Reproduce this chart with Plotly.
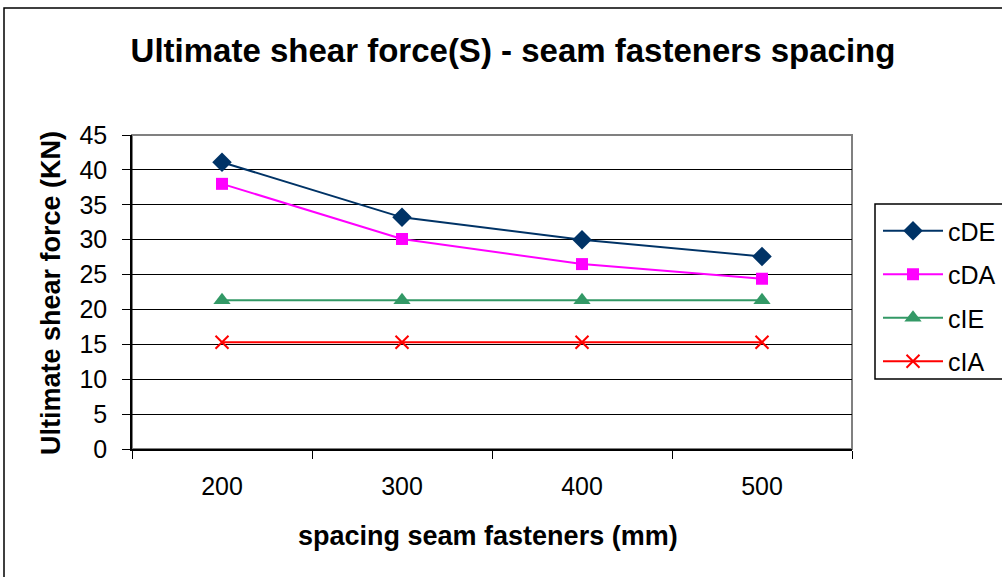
import plotly.graph_objects as go

spacing = ["200", "300", "400", "500"]
cDE = [41.1, 33.2, 30.0, 27.6]
cDA = [38.0, 30.1, 26.5, 24.4]
cIE = [21.3, 21.3, 21.3, 21.3]
cIA = [15.3, 15.3, 15.3, 15.3]
y_ticks = [0, 5, 10, 15, 20, 25, 30, 35, 40, 45]

FONT = "Liberation Sans, Arial, sans-serif"

fig = go.Figure()
fig.add_trace(go.Scatter(x=spacing, y=cDE, name="cDE", mode="lines+markers", legendgroup="a",
                         line=dict(color="#003366", width=2),
                         marker=dict(symbol="diamond", size=15, color="#003366")))
fig.add_trace(go.Scatter(x=spacing, y=cDA, name="cDA", mode="lines+markers", legendgroup="b",
                         line=dict(color="#FF00FF", width=2),
                         marker=dict(symbol="square", size=12, color="#FF00FF")))
fig.add_trace(go.Scatter(x=spacing, y=cIE, name="cIE", mode="lines+markers", legendgroup="c",
                         line=dict(color="#339966", width=2),
                         marker=dict(symbol="triangle-up", size=15, color="#339966")))
fig.add_trace(go.Scatter(x=spacing, y=cIA, name="cIA", mode="lines+markers", legendgroup="d",
                         line=dict(color="#FF0000", width=2),
                         marker=dict(symbol="x-thin", size=13, color="#FF0000",
                                     line=dict(color="#FF0000", width=2))))

L, R, T, B = 132, 852, 135, 449
W, H = 1002, 577
pw, ph = R - L, B - T

def px(x):
    return (x - L) / pw

def py(y):
    return (B - y) / ph

fig.update_layout(
    width=W, height=H,
    margin=dict(l=L, r=W - R, t=T, b=H - B, autoexpand=False),
    paper_bgcolor="white", plot_bgcolor="white",
    font=dict(family=FONT, size=25, color="black"),
    title=dict(text="<b>Ultimate shear force(S) - seam fasteners spacing</b>",
               x=513 / W, xanchor="center", y=1 - 50 / H, yanchor="middle",
               font=dict(family=FONT, size=33, color="black")),
    showlegend=True,
    legend=dict(x=px(878), y=py(208), xanchor="left", yanchor="top",
                bgcolor="rgba(0,0,0,0)", borderwidth=0,
                font=dict(family=FONT, size=25, color="black"),
                itemwidth=60, tracegroupgap=8),
    shapes=[
        dict(type="rect", xref="paper", yref="paper",
             x0=px(4), x1=px(1010), y0=py(590), y1=py(8),
             line=dict(color="black", width=1.5), layer="below"),
        dict(type="rect", xref="paper", yref="paper",
             x0=0, x1=1, y0=0, y1=1,
             line=dict(color="#808080", width=2), layer="below"),
        dict(type="rect", xref="paper", yref="paper",
             x0=px(875), x1=px(1010), y0=py(379), y1=py(204),
             line=dict(color="black", width=1.5), layer="below"),
    ],
    annotations=[
        dict(text="<b>spacing seam fasteners (mm)</b>", xref="paper", yref="paper",
             x=px(488), y=py(536), xanchor="center", yanchor="middle", showarrow=False,
             font=dict(family=FONT, size=27, color="black")),
        dict(text="<b>Ultimate shear force (KN)</b>", xref="paper", yref="paper",
             x=px(51), y=py(293), xanchor="center", yanchor="middle", showarrow=False,
             textangle=-90, font=dict(family=FONT, size=27, color="black")),
    ],
)

fig.update_xaxes(
    type="category", range=[-0.5, 3.5],
    showgrid=False, zeroline=False,
    showline=True, linecolor="black", linewidth=1.5,
    ticks="outside", tickson="boundaries", ticklen=8, tickcolor="black", tickwidth=1,
    tickfont=dict(family=FONT, size=25, color="black"),
    ticklabelstandoff=14,
)
fig.update_yaxes(
    range=[0, 45], tickvals=y_ticks,
    showgrid=True, gridcolor="black", gridwidth=1,
    zeroline=False,
    showline=True, linecolor="black", linewidth=1.5,
    ticks="outside", ticklen=8, tickcolor="black", tickwidth=1,
    tickfont=dict(family=FONT, size=25, color="black"),
    ticklabelstandoff=10,
)

fig.write_html("out.html")
